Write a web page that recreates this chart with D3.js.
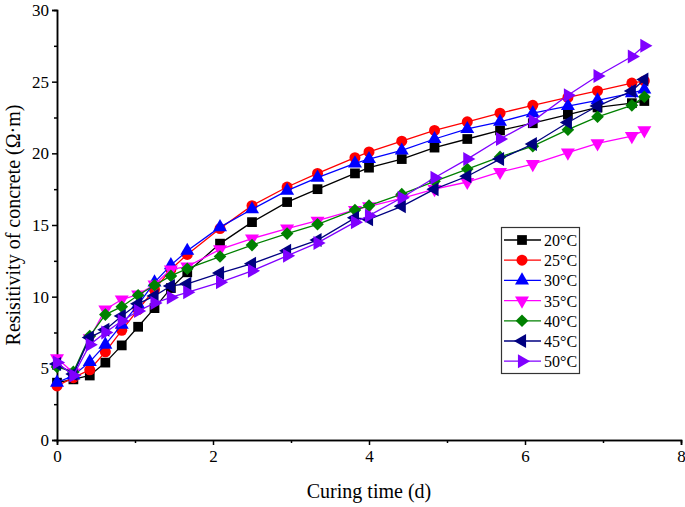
<!DOCTYPE html>
<html><head><meta charset="utf-8">
<script src="https://cdn.jsdelivr.net/npm/d3@7"></script>
<style>body{margin:0;background:#fff}svg{display:block}text{font-family:"Liberation Serif","Times New Roman",serif}</style>
</head><body>
<svg id="c" width="685" height="507"></svg>
<script>
const days = [0,0.21,0.42,0.62,0.83,1.04,1.25,1.46,1.67,2.09,2.5,2.95,3.34,3.82,4.0,4.42,4.84,5.26,5.68,6.1,6.55,6.93,7.37,7.53];
const s20 = [4.0,4.23,4.5,5.4,6.6,7.9,9.2,10.6,11.7,13.7,15.2,16.6,17.5,18.6,19.0,19.6,20.4,21.0,21.6,22.1,22.7,23.2,23.5,23.65];
const s25 = [3.77,4.35,4.9,6.15,7.65,9.1,10.5,11.9,12.95,14.75,16.35,17.65,18.6,19.7,20.1,20.85,21.6,22.2,22.8,23.35,23.9,24.35,24.9,25.05];
const s30 = [4.0,4.5,5.45,6.65,8.05,9.45,11.0,12.2,13.2,14.85,16.1,17.4,18.3,19.3,19.6,20.2,21.0,21.7,22.2,22.8,23.3,23.7,24.2,24.45];
const s35 = [5.7,4.7,7.1,9.1,9.8,10.15,10.85,11.9,12.1,13.3,14.05,14.75,15.3,16.05,16.3,16.85,17.5,18.0,18.7,19.25,20.05,20.7,21.2,21.6];
const s40 = [5.1,4.75,7.25,8.75,9.3,10.1,10.8,11.45,11.95,12.8,13.6,14.4,15.05,16.05,16.35,17.15,18.05,18.9,19.75,20.5,21.65,22.55,23.35,23.95];
const s45 = [5.3,4.6,7.15,7.7,8.65,9.5,10.05,10.75,10.9,11.65,12.3,13.2,13.95,15.5,15.4,16.3,17.5,18.4,19.6,20.65,22.15,23.3,24.35,25.15];
const s50 = [5.4,4.5,6.65,7.5,8.3,9.0,9.55,9.95,10.3,11.0,11.8,12.85,13.75,15.2,15.65,16.9,18.3,19.6,21.0,22.25,24.05,25.4,26.75,27.5];
const labels = ["20°C","25°C","30°C","35°C","40°C","45°C","50°C"];
const xTicks = [0,2,4,6,8];
const yTicks = [0,5,10,15,20,25,30];
const xTitle = "Curing time (d)";
const yTitle = "Resisitivity of concrete (Ω·m)";

const seriesVals = [s20,s25,s30,s35,s40,s45,s50];
const colors = ["#000000","#ff0000","#0000ff","#ff00ff","#008000","#000080","#8000ff"];
const shapes = [
  {t:d3.symbolSquare, size:95, rot:0},
  {t:d3.symbolCircle, size:95, rot:0},
  {t:d3.symbolTriangle, size:85, rot:0},
  {t:d3.symbolTriangle, size:85, rot:180},
  {t:d3.symbolSquare, size:80, rot:45},
  {t:d3.symbolTriangle, size:85, rot:-90},
  {t:d3.symbolTriangle, size:85, rot:90}
];

const svg = d3.select("#c");
const L=57, R=681, T=10, B=440;
const x = d3.scaleLinear().domain([0,8]).range([L,R]);
const y = d3.scaleLinear().domain([0,30]).range([B,T]);

const xAxis = d3.axisBottom(x).tickValues(xTicks).tickSize(5).tickPadding(5).tickFormat(d3.format("d"));
const yAxis = d3.axisLeft(y).tickValues(yTicks).tickSize(5).tickPadding(3).tickFormat(d3.format("d"));
svg.append("g").attr("transform",`translate(0,${B})`).call(xAxis);
svg.append("g").attr("transform",`translate(${L},0)`).call(yAxis);
svg.append("g").attr("transform",`translate(0,${B})`).call(d3.axisBottom(x).tickValues([1,3,5,7]).tickSize(3).tickFormat(""));
svg.append("g").attr("transform",`translate(${L},0)`).call(d3.axisLeft(y).tickValues([2.5,7.5,12.5,17.5,22.5,27.5]).tickSize(3).tickFormat(""));
svg.selectAll(".domain").attr("stroke","#000").attr("stroke-width",1.5);
svg.selectAll(".tick line").attr("stroke","#000").attr("stroke-width",1.5);
svg.selectAll(".tick text").attr("font-size",17).attr("font-family","Liberation Serif").attr("fill","#000");

svg.append("text").attr("x",(L+R)/2).attr("y",498).attr("text-anchor","middle").attr("font-size",20).text(xTitle);
svg.append("text").attr("transform",`translate(20,${(T+B)/2}) rotate(-90)`).attr("text-anchor","middle").attr("font-size",20).text(yTitle);

const line = d3.line().x((d,i)=>x(days[i])).y(d=>y(d));
seriesVals.forEach((vals,k)=>{
  const g = svg.append("g");
  g.append("path").attr("d",line(vals)).attr("fill","none").attr("stroke",colors[k]).attr("stroke-width",1.3);
  const sym = d3.symbol().type(shapes[k].t).size(shapes[k].size);
  g.selectAll("path.m").data(vals).join("path").attr("class","m")
    .attr("d",sym)
    .attr("transform",(d,i)=>`translate(${x(days[i])},${y(d)}) rotate(${shapes[k].rot})`)
    .attr("fill",colors[k]);
});

const lg = svg.append("g");
lg.append("rect").attr("x",501.5).attr("y",227.5).attr("width",78).attr("height",146).attr("fill","#fff").attr("stroke","#333").attr("stroke-width",1.2);
labels.forEach((lab,k)=>{
  const yy = 240 + k*20.2;
  lg.append("line").attr("x1",504).attr("x2",541).attr("y1",yy).attr("y2",yy).attr("stroke",colors[k]).attr("stroke-width",1.3);
  lg.append("path").attr("d",d3.symbol().type(shapes[k].t).size(shapes[k].size)).attr("transform",`translate(522,${yy}) rotate(${shapes[k].rot})`).attr("fill",colors[k]);
  lg.append("text").attr("x",544).attr("y",yy+6).attr("font-size",16).text(lab);
});
</script>
</body></html>
